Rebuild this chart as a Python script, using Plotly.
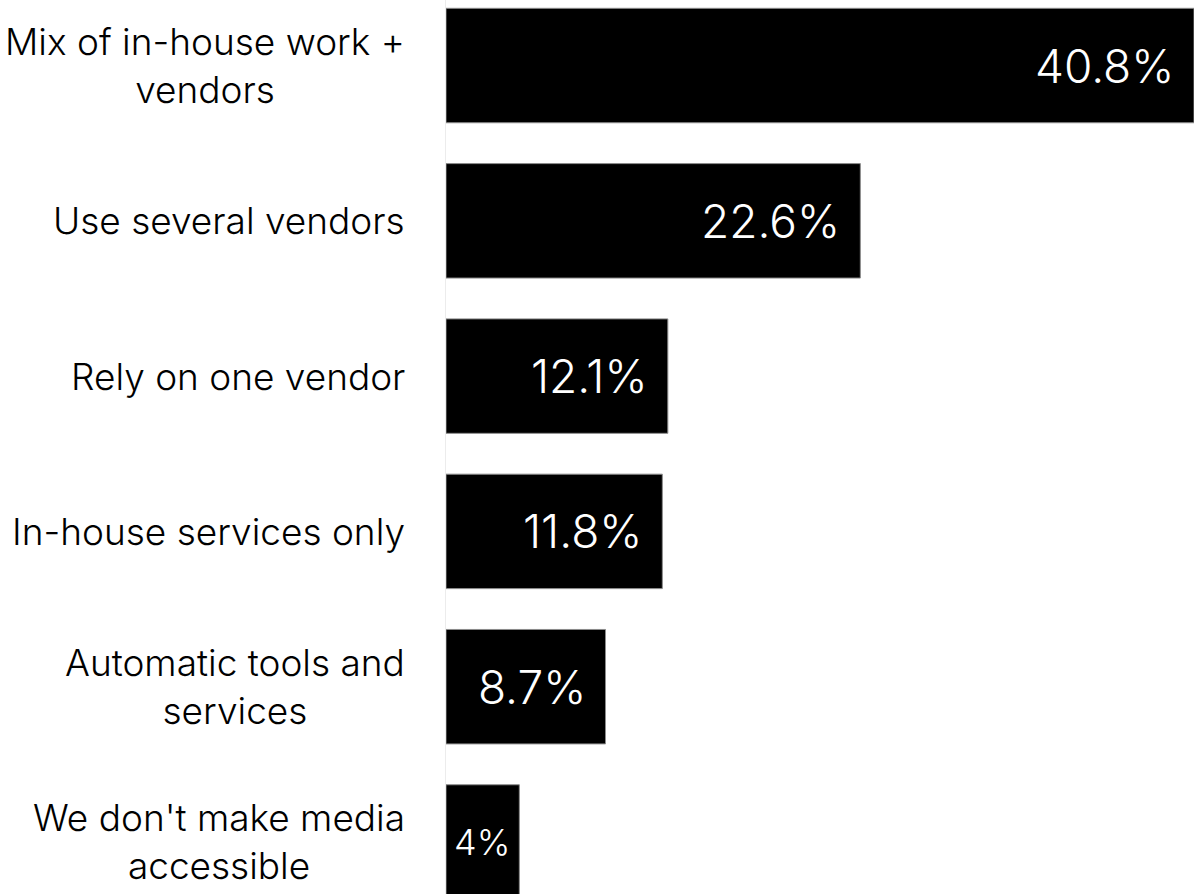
import plotly.graph_objects as go

# Survey answers: how organisations make their media accessible
categories = [
    "Mix of in-house work +<br>vendors",
    "Use several vendors",
    "Rely on one vendor",
    "In-house services only",
    "Automatic tools and<br>services",
    "We don't make media<br>accessible",
]
values = [40.8, 22.6, 12.1, 11.8, 8.7, 4]
value_labels = ["40.8%", "22.6%", "12.1%", "11.8%", "8.7%", "4%"]

FONT = "Inter"
X_MAX = 40.8

fig = go.Figure(
    go.Bar(
        x=values,
        y=categories,
        orientation="h",
        width=0.737,
        marker=dict(color="#000000", line=dict(color="#8c8c8c", width=1)),
        hoverinfo="skip",
    )
)

annotations = []
# Category names to the left of the bars, lines centred on each other
for cat in categories:
    annotations.append(
        dict(
            x=0, y=cat, xref="x", yref="y",
            text=cat, showarrow=False,
            xanchor="right", yanchor="middle", align="center",
            xshift=-39,
            font=dict(family=FONT, size=37, color="#000000", weight=300),
        )
    )

# Value labels inside the bar ends; short bars get a smaller label
for cat, v, lab in zip(categories, values, value_labels):
    narrow = v < 6
    annotations.append(
        dict(
            x=v, y=cat, xref="x", yref="y",
            text=lab, showarrow=False,
            xanchor="right", yanchor="middle",
            xshift=-7 if narrow else -18,
            font=dict(family=FONT, size=36 if narrow else 46,
                      color="#ffffff", weight=300),
        )
    )

fig.update_layout(
    width=1194,
    height=894,
    margin=dict(l=446, r=0, t=0, b=0),
    paper_bgcolor="#ffffff",
    plot_bgcolor="#ffffff",
    showlegend=False,
    annotations=annotations,
    xaxis=dict(
        range=[0, X_MAX],
        showgrid=False, zeroline=False, showticklabels=False, showline=False,
    ),
    yaxis=dict(
        type="category",
        categoryorder="array",
        categoryarray=categories,
        range=[5.335, -0.422],
        showgrid=False, zeroline=False, showticklabels=False,
        showline=True, linecolor="#ececec", linewidth=1,
    ),
)

fig.write_html("out.html")
